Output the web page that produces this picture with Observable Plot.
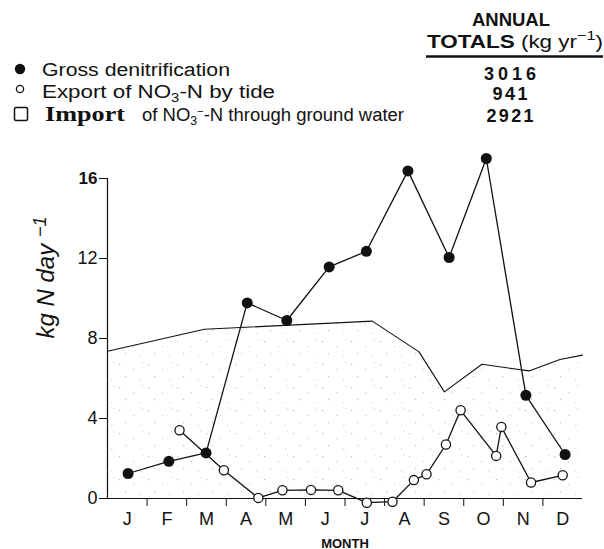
<!DOCTYPE html>
<html>
<head>
<meta charset="utf-8">
<script src="https://cdn.jsdelivr.net/npm/d3@7"></script>
<script src="https://cdn.jsdelivr.net/npm/@observablehq/plot@0.6"></script>
<style>
  html, body { margin: 0; padding: 0; background: #fff; }
  #wrap { width: 604px; }
  svg { display: block; }
</style>
</head>
<body>
<div id="wrap"></div>
<script>
// ---- data ----
const months = ["J","F","M","A","M","J","J","A","S","O","N","D"];
const monthBoundaries = [1,2,3,4,5,6,7,8,9,10,11];
const yTicks = [0,4,8,12,16];

const denitMonth = [0.52,1.55,2.49,3.53,4.53,5.6,6.54,7.59,8.63,9.57,10.57,11.56];
const denitValue = [1.25,1.86,2.28,9.78,8.9,11.58,12.36,16.38,12.05,17.0,5.16,2.2];

const exportMonth = [1.82,2.94,3.81,4.42,5.14,5.83,6.55,7.2,7.74,8.06,8.55,8.92,9.82,9.95,10.7,11.5];
const exportValue = [3.41,1.41,0.03,0.41,0.43,0.41,-0.21,-0.16,0.92,1.21,2.7,4.41,2.13,3.58,0.8,1.16];

const gwMonth = [0,2.45,6.69,7.87,8.51,9.46,10.65,11.43,12];
const gwValue = [7.36,8.46,8.87,7.33,5.33,6.71,6.38,6.95,7.17];

const legendLabels = ["Gross denitrification","Export of NO3-N by tide","Import of NO3-N through ground water"];
const annualTotals = ["3016","941","2921"];

const yLabel = "kg N day-1";
const xLabel = "MONTH";

// ---- tables ----
const denit = denitMonth.map((m,i)=>({m, v: denitValue[i]}));
const exp = exportMonth.map((m,i)=>({m, v: exportValue[i]}));
const gw = gwMonth.map((m,i)=>({m, v: gwValue[i]}));

const wrap = d3.select("#wrap");

// ---- legend (above the chart) ----
const L = wrap.append("svg").attr("width",604).attr("height",130)
  .style("font-family","'Liberation Sans', Arial, sans-serif").attr("fill","#111");

L.append("text").attr("x",511).attr("y",26).attr("text-anchor","middle")
  .attr("font-size",18).attr("font-weight","bold").attr("textLength",78).attr("lengthAdjust","spacingAndGlyphs")
  .text("ANNUAL");
const tt = L.append("text").attr("x",427).attr("y",48).attr("font-size",18).attr("font-weight","bold")
  .attr("textLength",176).attr("lengthAdjust","spacingAndGlyphs");
tt.append("tspan").text("TOTALS ");
tt.append("tspan").attr("font-weight","normal").text("(kg  yr");
tt.append("tspan").attr("dy",-8).attr("font-size",13).attr("font-weight","normal").text("\u22121");
tt.append("tspan").attr("dy",8).attr("font-weight","normal").text(")");
L.append("line").attr("x1",426).attr("x2",603).attr("y1",56.5).attr("y2",56.5).attr("stroke","#111").attr("stroke-width",2.5);

const numY = [80,100,122];
const numW = [52,35,47];
annualTotals.forEach((t,i)=>{
  L.append("text").attr("x",510).attr("y",numY[i]).attr("text-anchor","middle")
    .attr("font-size",18).attr("font-weight","bold").attr("textLength",numW[i]).attr("lengthAdjust","spacing")
    .text(t);
});

// symbols
L.append("circle").attr("cx",20).attr("cy",69).attr("r",5.2).attr("fill","#111");
L.append("circle").attr("cx",20).attr("cy",89).attr("r",3.6).attr("fill","#fff").attr("stroke","#111").attr("stroke-width",1.3);
L.append("rect").attr("x",14.5).attr("y",107.5).attr("width",13).attr("height",13).attr("rx",1.5)
  .attr("fill","#fff").attr("stroke","#111").attr("stroke-width",1.5);

// row 1
L.append("text").attr("x",42).attr("y",76).attr("font-size",18)
  .attr("textLength",188).attr("lengthAdjust","spacingAndGlyphs").text(legendLabels[0]);
// row 2
const r2 = L.append("text").attr("x",42).attr("y",98).attr("font-size",18)
  .attr("textLength",233).attr("lengthAdjust","spacingAndGlyphs");
r2.append("tspan").text("Export of NO");
r2.append("tspan").attr("dy",4).attr("font-size",12).text("3");
r2.append("tspan").attr("dy",-4).text("-N by tide");
// row 3
L.append("text").attr("x",45).attr("y",121).attr("font-size",22).attr("font-weight","bold")
  .style("font-family","'Liberation Serif', 'Times New Roman', serif")
  .attr("textLength",80).attr("lengthAdjust","spacingAndGlyphs").text("Import");
const r3 = L.append("text").attr("x",142).attr("y",121).attr("font-size",18)
  .attr("textLength",262).attr("lengthAdjust","spacingAndGlyphs");
r3.append("tspan").text("of NO");
r3.append("tspan").attr("dy",4).attr("font-size",12).text("3");
r3.append("tspan").attr("dy",-10).attr("font-size",11).text("\u2212");
r3.append("tspan").attr("dy",6).text("-N through ground water");

// ---- chart ----
const chart = Plot.plot({
  width: 604,
  height: 419,
  marginTop: 48,
  marginBottom: 51,
  marginLeft: 107,
  marginRight: 22,
  style: {fontFamily: "'Liberation Sans', Arial, sans-serif", color: "#111", background: "#fff"},
  x: {domain: [0,12], axis: null},
  y: {domain: [0,16], axis: null},
  marks: [
    Plot.areaY(gw, {x: "m", y: "v", fill: "url(#stip)"}),
    Plot.ruleX([0], {stroke: "#111", strokeWidth: 1.2}),
    Plot.ruleY([0], {stroke: "#111", strokeWidth: 1.2}),
    Plot.axisY(yTicks, {tickSize: 8, tickPadding: 2, fontSize: 18, fontWeight: 300, stroke: "#111", label: null}),
    Plot.axisX(monthBoundaries, {tickSize: 8, tickFormat: () => "", stroke: "#111", label: null}),
    Plot.axisX(months.map((d,i)=>i+0.5), {tickSize: 0, tickPadding: 14, fontSize: 18, fontWeight: 300,
      tickFormat: d => months[Math.floor(d)], label: null}),
    Plot.line(gw, {x: "m", y: "v", stroke: "#111", strokeWidth: 1.1}),
    Plot.line(exp, {x: "m", y: "v", stroke: "#111", strokeWidth: 1.3}),
    Plot.dot(exp, {x: "m", y: "v", r: 4.6, fill: "#fff", stroke: "#111", strokeWidth: 1.3}),
    Plot.line(denit, {x: "m", y: "v", stroke: "#111", strokeWidth: 1.3}),
    Plot.dot(denit, {x: "m", y: "v", r: 5.5, fill: "#111", stroke: "none"}),
    Plot.text([xLabel], {frameAnchor: "bottom", dy: 49, lineAnchor: "bottom", fontSize: 13, fontWeight: "bold", fill: "#111"}),
    Plot.text([yLabel], {frameAnchor: "left", dx: -61, rotate: -90, fontSize: 24, fontStyle: "italic", fontWeight: 300, fill: "#111"})
  ]
});

// sparse stipple pattern for the groundwater area
const defs = d3.select(chart).insert("defs", ":first-child");
const pat = defs.append("pattern").attr("id","stip").attr("width",29).attr("height",23).attr("patternUnits","userSpaceOnUse");
pat.append("rect").attr("width",29).attr("height",23).attr("fill","#fff");
[[3,4,"#b8b8b8"],[17,9,"#cfcfcf"],[9,16,"#c4c4c4"],[24,19,"#d8d8d8"],[26,2,"#dadada"]].forEach(([x,y,c])=>{
  pat.append("rect").attr("x",x).attr("y",y).attr("width",1.2).attr("height",1.2).attr("fill",c);
});

// bold top tick label
d3.select(chart).selectAll("text").filter(function(){ return this.textContent === "16"; })
  .attr("font-weight","bold").attr("font-size",17);

// superscript in the y label
d3.select(chart).selectAll("text").filter(function(){ return this.textContent === yLabel; })
  .each(function(){
    const t = d3.select(this);
    t.text(null);
    t.append("tspan").text("kg N day ");
    t.append("tspan").attr("dy","-0.45em").attr("font-size",18).text("\u22121");
  });

wrap.node().appendChild(chart);
</script>
</body>
</html>
